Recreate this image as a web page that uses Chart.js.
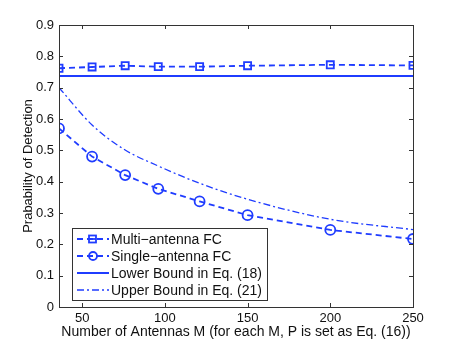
<!DOCTYPE html>
<html>
<head>
<meta charset="utf-8">
<script src="https://cdn.jsdelivr.net/npm/chart.js@4"></script>
<style>
  html, body { margin: 0; padding: 0; background: #fff; }
  #wrap { width: 457px; height: 346px; }
</style>
</head>
<body>
<div id="wrap"><canvas id="pdChart" width="457" height="346"></canvas></div>
<script>
// valores
const antennas = [36, 56, 76, 96, 121, 150, 200, 250];
const multiFC = [0.762, 0.766, 0.770, 0.767, 0.767, 0.770, 0.773, 0.771];
const singleFC = [0.570, 0.480, 0.421, 0.377, 0.337, 0.293, 0.246, 0.217];
const upperBound = [0.700, 0.581, 0.501, 0.450, 0.395, 0.344, 0.280, 0.247];
const lowerBoundM = [36, 250];
const lowerBound = [0.737, 0.737];
const xTicks = [50, 100, 150, 200, 250];
const yTicks = [0, 0.1, 0.2, 0.3, 0.4, 0.5, 0.6, 0.7, 0.8, 0.9];

const blue = '#1f3cff';
const font = 'Liberation Sans, Arial, Helvetica, sans-serif';

const toPoints = (xs, ys) => xs.map((x, i) => ({ x: x, y: ys[i] }));

// ticks hacia adentro y caja, estilo MATLAB
const boxPlugin = {
    id: 'box',
    afterDraw(chart) {
        const { ctx, chartArea: a, scales } = chart;
        ctx.save();
        ctx.strokeStyle = '#333';
        ctx.lineWidth = 1;
        ctx.beginPath();
        xTicks.forEach(v => {
            const px = Math.round(scales.x.getPixelForValue(v)) + 0.5;
            ctx.moveTo(px, a.bottom); ctx.lineTo(px, a.bottom - 4);
            ctx.moveTo(px, a.top); ctx.lineTo(px, a.top + 4);
        });
        yTicks.forEach(v => {
            const py = Math.round(scales.y.getPixelForValue(v)) + 0.5;
            ctx.moveTo(a.left, py); ctx.lineTo(a.left + 4, py);
            ctx.moveTo(a.right, py); ctx.lineTo(a.right - 4, py);
        });
        ctx.stroke();
        ctx.strokeRect(Math.round(a.left) + 0.5, Math.round(a.top) + 0.5,
            Math.round(a.right - a.left), Math.round(a.bottom - a.top));
        ctx.restore();
    }
};

// leyenda dentro del area, abajo a la izquierda
const legendPlugin = {
    id: 'boxLegend',
    afterDraw(chart) {
        const { ctx } = chart;
        const x0 = 72, y0 = 228, w = 195, h = 72;
        ctx.save();
        ctx.fillStyle = '#fff';
        ctx.fillRect(x0, y0, w, h);
        ctx.strokeStyle = '#333';
        ctx.lineWidth = 1;
        ctx.strokeRect(x0 + 0.5, y0 + 0.5, w, h);
        ctx.font = '14px ' + font;
        ctx.textBaseline = 'middle';
        chart.data.datasets.forEach((ds, i) => {
            const y = y0 + 11 + i * 17;
            ctx.strokeStyle = blue;
            ctx.lineWidth = ds.borderWidth;
            ctx.setLineDash(ds.borderDash || []);
            ctx.beginPath();
            ctx.moveTo(x0 + 5, y); ctx.lineTo(x0 + 37, y);
            ctx.stroke();
            ctx.setLineDash([]);
            if (ds.pointStyle === 'rect') {
                ctx.lineWidth = 1.8;
                ctx.strokeRect(x0 + 17, y - 3.5, 7, 7);
                ctx.beginPath(); ctx.moveTo(x0 + 17, y); ctx.lineTo(x0 + 24, y); ctx.stroke();
            } else if (ds.pointStyle === 'circle' && ds.pointRadius > 0) {
                ctx.lineWidth = 1.8;
                ctx.beginPath(); ctx.arc(x0 + 21, y, 4, 0, Math.PI * 2); ctx.stroke();
            }
            ctx.fillStyle = '#111';
            ctx.fillText(ds.label, x0 + 39, y + 1);
        });
        ctx.restore();
    }
};

const ctx = document.getElementById('pdChart').getContext('2d');
const pdChart = new Chart(ctx, {
    type: 'line',
    data: {
        datasets: [
            {
                label: 'Multi\u2212antenna FC',
                data: toPoints(antennas, multiFC),
                borderColor: blue, backgroundColor: 'transparent',
                borderWidth: 1.8, borderDash: [6, 4],
                pointStyle: 'rect', pointRadius: 5, pointBorderWidth: 1.8,
                pointBorderColor: blue, pointBackgroundColor: 'transparent'
            },
            {
                label: 'Single\u2212antenna FC',
                data: toPoints(antennas, singleFC),
                borderColor: blue, backgroundColor: 'transparent',
                borderWidth: 1.8, borderDash: [6, 4],
                pointStyle: 'circle', pointRadius: 5, pointBorderWidth: 1.8,
                pointBorderColor: blue, pointBackgroundColor: 'transparent'
            },
            {
                label: 'Lower Bound in Eq. (18)',
                data: toPoints(lowerBoundM, lowerBound),
                borderColor: blue, backgroundColor: 'transparent',
                borderWidth: 2, pointRadius: 0, pointStyle: 'line'
            },
            {
                label: 'Upper Bound in Eq. (21)',
                data: toPoints(antennas, upperBound),
                borderColor: blue, backgroundColor: 'transparent',
                borderWidth: 1.3, borderDash: [7, 3, 2, 3],
                pointRadius: 0, pointStyle: 'line', cubicInterpolationMode: 'monotone'
            }
        ]
    },
    options: {
        responsive: false,
        animation: false,
        layout: { padding: { left: 0, top: 25, right: 44, bottom: 0 } },
        plugins: { legend: { display: false }, tooltip: { enabled: false } },
        scales: {
            x: {
                type: 'linear', min: 36, max: 250,
                afterBuildTicks: s => { s.ticks = xTicks.map(v => ({ value: v })); },
                afterFit: s => { s.height = 39; },
                grid: { display: false, drawTicks: false },
                border: { display: false },
                ticks: { padding: 4, color: '#111', font: { family: font, size: 13 }, maxRotation: 0 },
                title: {
                    display: true, text: 'Number of Antennas M (for each M, P is set as Eq. (16))',
                    color: '#111', font: { family: font, size: 14 }, padding: { top: 0, bottom: 5 }
                }
            },
            y: {
                min: 0, max: 0.9,
                afterBuildTicks: s => { s.ticks = yTicks.map(v => ({ value: v })); },
                afterFit: s => { s.width = 59; },
                grid: { display: false, drawTicks: false },
                border: { display: false },
                ticks: {
                    padding: 5, color: '#111', font: { family: font, size: 13 },
                    callback: v => v === 0 ? '0' : v.toFixed(1)
                },
                title: {
                    display: true, text: 'Prabability of Detection',
                    color: '#111', font: { family: font, size: 13 }, padding: { top: 21, bottom: 0 }
                }
            }
        }
    },
    plugins: [boxPlugin, legendPlugin]
});
</script>
</body>
</html>
